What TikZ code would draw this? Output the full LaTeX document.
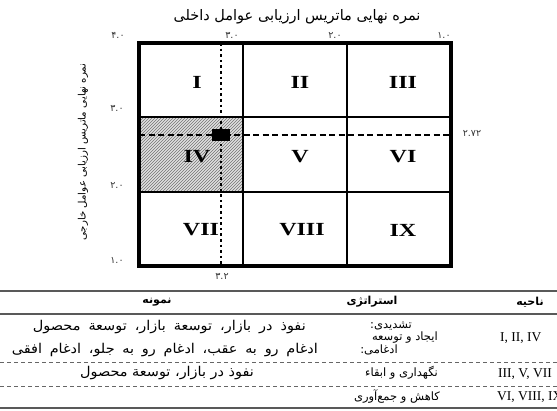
\documentclass[tikz,border=0pt]{standalone}
\usepackage{fontspec}
\usepackage{graphicx}
\setmainfont{Liberation Serif}
\newfontfamily\fa[Script=Arabic]{DejaVu Sans}
\TeXXeTstate=1
\usetikzlibrary{patterns}
\tikzset{
  roman/.style={font=\fontsize{18.5}{18}\selectfont\bfseries, inner sep=0pt},
  axnum/.style={font=\fontsize{9.5}{9}\fa, inner sep=0pt, text=black!80},
  title/.style={font=\fontsize{14.5}{14}\fa, inner sep=0pt},
  ytitle/.style={font=\fontsize{10.2}{12}\fa, inner sep=0pt},
  fatxt/.style={font=\fontsize{11.5}{12}\fa, inner sep=0pt},
  faex/.style={font=\fontsize{13.5}{14}\fa, inner sep=0pt},
  fahead/.style={font=\fontsize{11}{12}\fa\bfseries, inner sep=0pt},
  latn/.style={font=\fontsize{13.5}{14}\selectfont, inner sep=0pt},
  gridline/.style={line width=1.2pt},
  rule/.style={line width=1.3pt, draw=black!65},
  dashrule/.style={line width=0.8pt, draw=black!60, dash pattern=on 4pt off 3pt}
}
\begin{document}
\begin{tikzpicture}[x=1pt,y=-1pt]
\useasboundingbox (0,0) rectangle (557,411);
% hatched cell IV
\fill[black!12] (139,117) rectangle (243,192);
\fill[pattern=north east lines, pattern color=black!55] (139,117) rectangle (243,192);
% inner grid
\draw[gridline] (243,43) -- (243,266);
\draw[gridline] (347,43) -- (347,266);
\draw[gridline] (139,117) -- (451,117);
\draw[gridline] (139,192) -- (451,192);
% outer frame
\draw[line width=3.6pt] (139,43) rectangle (451,266);
% dashed horizontal and dotted vertical
\coordinate (hl) at (139,135);
\coordinate (hr) at (451,135);
\coordinate (vt) at (221,43);
\coordinate (vb) at (221,266);
\draw[line width=1.6pt, dash pattern=on 6pt off 3.5pt] (hl) -- (hr);
\draw[line width=2.8pt, dash pattern=on 2.6pt off 3pt] (vt) -- (vb);
\node[fill=black, minimum width=18pt, minimum height=12pt, inner sep=0pt] (pt) at (221,135) {};
% cell labels
\node[roman] (c1) at (197,82) {\scalebox{1.3}[1]{I}};
\node[roman] (c2) at (300,82) {\scalebox{1.3}[1]{II}};
\node[roman] (c3) at (403,82) {\scalebox{1.3}[1]{III}};
\node[roman] (c4) at (197,157) {\scalebox{1.3}[1]{IV}};
\node[roman] (c5) at (300,157) {\scalebox{1.3}[1]{V}};
\node[roman] (c6) at (403,157) {\scalebox{1.3}[1]{VI}};
\node[roman] (c7) at (201,230) {\scalebox{1.3}[1]{VII}};
\node[roman] (c8) at (302,230) {\scalebox{1.3}[1]{VIII}};
\node[roman] (c9) at (403,230) {\scalebox{1.3}[1]{IX}};
% axis titles
\node[title] (xt) at (297,17) {\beginR نمره نهایی ماتریس ارزیابی عوامل داخلی\endR};
\node[ytitle, rotate=90] (yt) at (83,152) {\beginR نمره نهایی ماتریس ارزیابی عوامل خارجی\endR};
% axis numbers
\node[axnum] (x4) at (118,35) {۴.۰};
\node[axnum] (x3) at (232,35) {۳.۰};
\node[axnum] (x2) at (335,35) {۲.۰};
\node[axnum] (x1) at (444,35) {۱.۰};
\node[axnum] (y3) at (117,108) {۳.۰};
\node[axnum] (y2) at (117,185) {۲.۰};
\node[axnum] (y1) at (117,260) {۱.۰};
\node[axnum] (xv) at (222,276) {۳.۲};
\node[axnum] (yv) at (472,133) {۲.۷۲};
% table rules
\draw[rule] (0,291) -- (557,291);
\draw[rule] (0,314) -- (557,314);
\draw[dashrule] (0,362) -- (557,362);
\draw[dashrule] (0,386) -- (557,386);
\draw[rule] (0,408) -- (557,408);
% header
\node[fahead] (h1) at (530,302) {\beginR ناحیه\endR};
\node[fahead] (h2) at (372,302) {\beginR استراتژی\endR};
\node[fahead] (h3) at (157,302) {\beginR نمونه\endR};
% row 1
\node[fatxt, anchor=east] (r1a) at (412,326) {\beginR تشدیدی:\endR};
\node[faex, anchor=east] (r1b) at (306,327) {\scalebox{1.07}[1]{\makebox[255pt][s]{\beginR نفوذ در بازار، توسعة بازار، توسعة محصول\endR}}};
\node[fatxt, anchor=east] (r1s) at (438,338) {\beginR ایجاد و توسعه\endR};
\node[latn, anchor=west] (r1n) at (500,338) {I, II, IV};
\node[fatxt, anchor=east] (r1c) at (398,350) {\beginR ادغامی:\endR};
\node[faex, anchor=east] (r1d) at (318,350) {\scalebox{1.07}[1]{\makebox[286pt][s]{\beginR ادغام رو به عقب، ادغام رو به جلو، ادغام افقی\endR}}};
% row 2
\node[latn, anchor=west] (r2n) at (498,374) {III, V, VII};
\node[fatxt, anchor=east] (r2s) at (438,373) {\beginR نگهداری و ابقاء\endR};
\node[faex] (r2e) at (167,373) {\scalebox{1.07}[1]{\beginR نفوذ در بازار، توسعة محصول\endR}};
% row 3
\node[latn, anchor=west] (r3n) at (497,397) {VI, VIII, IX};
\node[fatxt, anchor=east] (r3s) at (440,397) {\beginR کاهش و جمع‌آوری\endR};
\end{tikzpicture}
\end{document}
